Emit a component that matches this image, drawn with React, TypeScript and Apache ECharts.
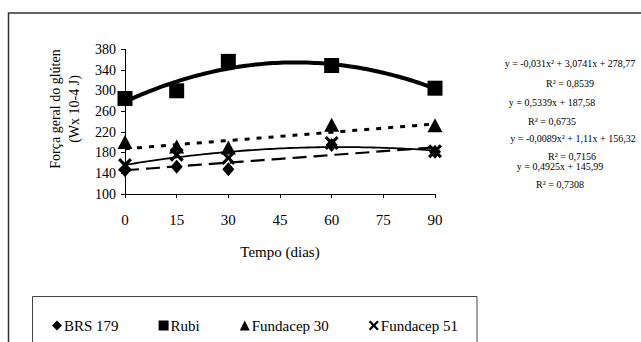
import React, { useEffect, useRef } from "react";
import * as echarts from "echarts";

const days = [0, 15, 30, 60, 90];
const seriesNames = ["BRS 179", "Rubi", "Fundacep 30", "Fundacep 51"];
const brs179 = [146, 153, 148, 195, 182];
const rubi = [285, 300, 357, 349, 305];
const fundacep30 = [201, 192, 190, 234, 233];
const fundacep51 = [156, 176, 170, 199, 183];
// trendline coefficients as printed on the chart: [a2, a1, a0] for y = a2 x^2 + a1 x + a0
const trendBrs = [0, 0.4925, 145.99];
const trendRubi = [-0.031, 3.0741, 278.77];
const trendF30 = [0, 0.5339, 187.58];
const trendF51 = [-0.0089, 1.11, 156.32];
const equations = [
  "y = -0,031x² + 3,0741x + 278,77",
  "R² = 0,8539",
  "y = 0,5339x + 187,58",
  "R² = 0,6735",
  "y = -0,0089x² + 1,11x + 156,32",
  "R² = 0,7156",
  "y = 0,4925x + 145,99",
  "R² = 0,7308",
];
const xTicks = { min: 0, max: 90, interval: 15 };
const yTicks = { min: 100, max: 380, interval: 40 };

const FONT = "Liberation Serif";
const XPATH = "path://M0,1.6L1.6,0L5,3.4L8.4,0L10,1.6L6.6,5L10,8.4L8.4,10L5,6.6L1.6,10L0,8.4L3.4,5Z";

function trendPoints(c: number[]) {
  const pts: number[][] = [];
  for (let i = 0; i <= 90; i++) pts.push([i, c[0] * i * i + c[1] * i + c[2]]);
  return pts;
}

export default function App() {
  const ref = useRef<HTMLDivElement>(null);
  useEffect(() => {
    if (!ref.current) return;
    const chart = echarts.init(ref.current, undefined, { renderer: "svg" });
    const pair = (vals: number[]) => days.map((d, i) => [d, vals[i]]);
    const eqPos = [
      [570, 63], [570, 83], [552, 102], [552, 121], [573, 138], [572, 156], [560, 166], [560, 184],
    ];
    chart.setOption({
      animation: false,
      backgroundColor: "#fff",
      textStyle: { fontFamily: FONT, color: "#000" },
      grid: { left: 125, top: 49.5, right: 206, bottom: 148, outerBoundsMode: "none", containLabel: false },
      xAxis: {
        type: "value",
        min: xTicks.min,
        max: xTicks.max,
        interval: xTicks.interval,
        name: "Tempo (dias)",
        nameLocation: "middle",
        nameGap: 50,
        nameTextStyle: { fontFamily: FONT, fontSize: 15, color: "#000", verticalAlign: "top" },
        axisLine: { lineStyle: { color: "#000", width: 1 } },
        axisTick: { show: true, length: 4, inside: false, lineStyle: { color: "#000" } },
        axisLabel: { fontFamily: FONT, fontSize: 15, color: "#000", margin: 18 },
        splitLine: { show: false },
      },
      yAxis: {
        type: "value",
        min: yTicks.min,
        max: yTicks.max,
        interval: yTicks.interval,
        axisLine: { show: true, lineStyle: { color: "#000", width: 1 } },
        axisTick: { show: true, length: 4, lineStyle: { color: "#000" } },
        axisLabel: { fontFamily: FONT, fontSize: 14, color: "#000", margin: 9 },
        splitLine: { show: false },
      },
      legend: {
        left: 52,
        top: 318,
        itemWidth: 10,
        itemHeight: 10,
        itemGap: 40,
        padding: 0,
        textStyle: { fontFamily: FONT, fontSize: 15, color: "#000", padding: [0, 0, 0, -3] },
        data: [
          { name: seriesNames[0], icon: "diamond" },
          { name: seriesNames[1], icon: "rect" },
          { name: seriesNames[2], icon: "triangle" },
          { name: seriesNames[3], icon: XPATH },
        ],
      },
      series: [
        {
          type: "line", data: trendPoints(trendBrs), symbol: "none", silent: true, z: 2,
          lineStyle: { color: "#000", width: 2.2, type: [14, 7] },
        },
        {
          type: "line", data: trendPoints(trendRubi), symbol: "none", silent: true, z: 2,
          lineStyle: { color: "#000", width: 4 },
        },
        {
          type: "line", data: trendPoints(trendF30), symbol: "none", silent: true, z: 2,
          lineStyle: { color: "#000", width: 3, type: [5, 7] },
        },
        {
          type: "line", data: trendPoints(trendF51), symbol: "none", silent: true, z: 2,
          lineStyle: { color: "#000", width: 1.8 },
        },
        {
          name: seriesNames[0], type: "scatter", data: pair(brs179), symbol: "diamond", symbolSize: [12, 14], z: 3,
          itemStyle: { color: "#000", opacity: 1 },
        },
        {
          name: seriesNames[1], type: "scatter", data: pair(rubi), symbol: "rect", symbolSize: 15, z: 3,
          itemStyle: { color: "#000", opacity: 1 },
        },
        {
          name: seriesNames[2], type: "scatter", data: pair(fundacep30), symbol: "triangle", symbolSize: [15, 14], z: 3,
          itemStyle: { color: "#000", opacity: 1 },
        },
        {
          name: seriesNames[3], type: "scatter", data: pair(fundacep51), symbol: XPATH, symbolSize: 14, z: 4,
          itemStyle: { color: "#000", opacity: 1 },
        },
      ],
      graphic: [
        {
          type: "rect", silent: true, z: -10,
          shape: { x: 8.5, y: 13, width: 700, height: 400 },
          style: { fill: "none", stroke: "#333", lineWidth: 1.5 },
        },
        {
          type: "rect", silent: true, z: -10,
          shape: { x: 32.5, y: 296.5, width: 444.5, height: 100 },
          style: { fill: "none", stroke: "#444", lineWidth: 1 },
        },
        {
          type: "text", silent: true,
          x: 65, y: 109, rotation: Math.PI / 2,
          style: {
            text: "Força geral do glúten\n(Wx 10-4 J)",
            fontFamily: FONT, fontSize: 14, fill: "#000", align: "center", verticalAlign: "middle", lineHeight: 19,
          },
        },
        ...equations.map((t, i) => ({
          type: "text", silent: true,
          x: eqPos[i][0], y: eqPos[i][1],
          style: { text: t, fontFamily: FONT, fontSize: 10, fill: "#000", align: "center", verticalAlign: "middle" },
        })),
      ],
    });
    return () => chart.dispose();
  }, []);
  return <div ref={ref} style={{ position: "absolute", left: 0, top: 0, width: 641, height: 342 }} />;
}
